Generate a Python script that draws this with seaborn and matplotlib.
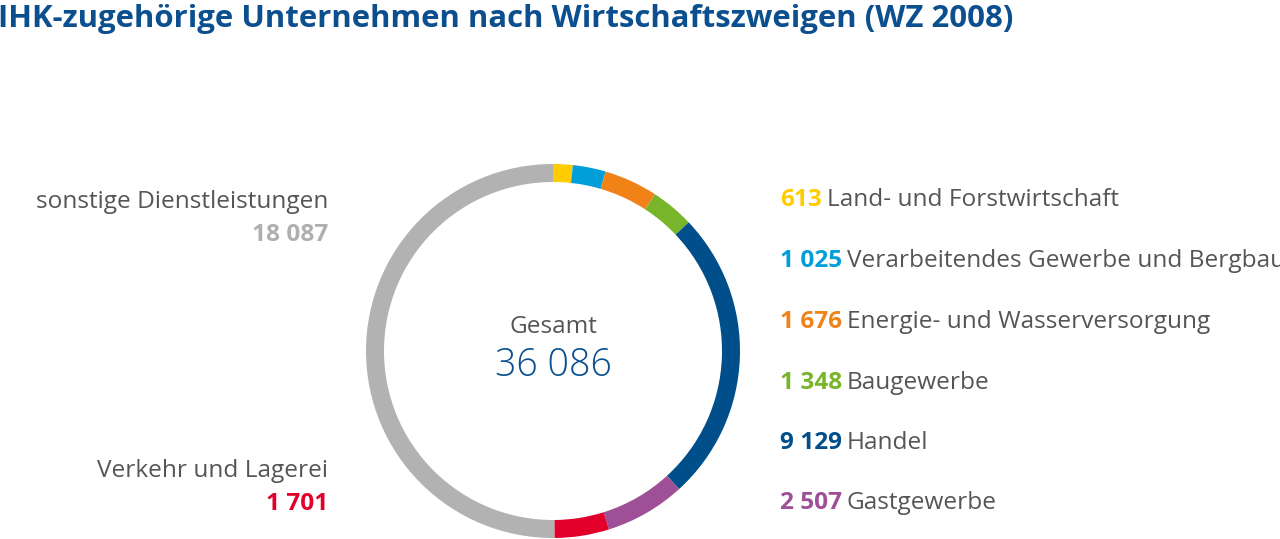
import matplotlib
matplotlib.use("Agg")
import matplotlib.pyplot as plt
import seaborn as sns

# ---- data ----
categories = ["Land- und Forstwirtschaft", "Verarbeitendes Gewerbe und Bergbau",
              "Energie- und Wasserversorgung", "Baugewerbe", "Handel",
              "Gastgewerbe", "Verkehr und Lagerei", "sonstige Dienstleistungen"]
values = [613, 1025, 1676, 1348, 9129, 2507, 1701, 18087]
value_labels = ["613", "1 025", "1 676", "1 348", "9 129", "2 507", "1 701", "18 087"]
colors = ["#FFCC00", "#009FDA", "#F08217", "#78B52A", "#004F8A",
          "#9E4F96", "#E2002B", "#B2B2B2"]
total_label = "36 086"
title = "IHK-zugehörige Unternehmen nach Wirtschaftszweigen (WZ 2008)"

sns.set_theme(style="white")
plt.rcParams["font.family"] = ["Open Sans", "DejaVu Sans"]

W, H = 1280, 539
fig = plt.figure(figsize=(W / 100, H / 100), dpi=100)
fig.patch.set_facecolor("white")

# donut axes: center (553, 351), radius 187 px
cx, cy, R = 553, 351, 187
ax = fig.add_axes([(cx - R) / W, (H - cy - R) / H, 2 * R / W, 2 * R / H])
ax.pie(values, colors=sns.color_palette(colors), startangle=90, counterclock=False,
       radius=1.0, wedgeprops=dict(width=18 / R, linewidth=0))
ax.set_xlim(-1, 1)
ax.set_ylim(-1, 1)
ax.set_aspect("auto")
ax.axis("off")

# overlay axes in pixel coordinates
ov = fig.add_axes([0, 0, 1, 1], facecolor="none")
ov.set_xlim(0, W)
ov.set_ylim(H, 0)
ov.axis("off")

TXT = "#555555"
FS = 17.6
ov.text(-2, 27, title, fontsize=22.4, fontweight="bold", color="#0B4F8F",
        ha="left", va="baseline")

# center
ov.text(cx, 333, "Gesamt", fontsize=FS, color=TXT, ha="center", va="baseline")
ov.text(cx, 376, total_label, fontsize=27, color="#0B4F8F", ha="center", va="baseline",
        fontweight="light")

# right labels
right_idx = [0, 1, 2, 3, 4, 5]
baselines = [206, 267, 328, 389, 449, 509]
for i, yb in zip(right_idx, baselines):
    t1 = ov.text(780, yb, value_labels[i], fontsize=FS, fontweight="bold",
                 color=colors[i], ha="left", va="baseline")
    ov.annotate(categories[i], xy=(1, 0), xycoords=t1, xytext=(3.5, 0),
                textcoords="offset points", fontsize=FS, color=TXT,
                ha="left", va="bottom")

# left labels
ov.text(328, 208, categories[7], fontsize=FS, color=TXT, ha="right", va="baseline")
ov.text(328, 241, value_labels[7], fontsize=FS, fontweight="bold", color="#AFAFAF",
        ha="right", va="baseline")
ov.text(328, 477, categories[6], fontsize=FS, color=TXT, ha="right", va="baseline")
ov.text(328, 510, value_labels[6], fontsize=FS, fontweight="bold", color=colors[6],
        ha="right", va="baseline")

fig.savefig("out.png", dpi=100)
